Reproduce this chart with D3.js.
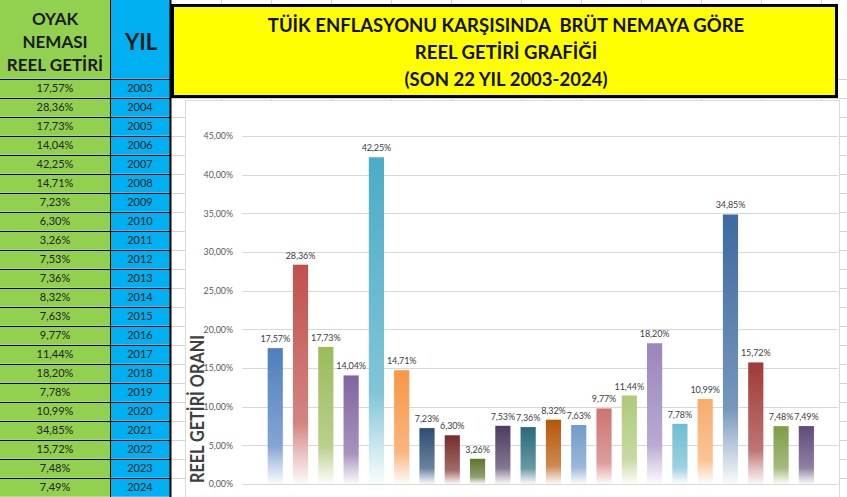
<!DOCTYPE html>
<html>
<head>
<meta charset="utf-8">
<script src="https://cdn.jsdelivr.net/npm/d3@7"></script>
<style>
  html, body { margin: 0; padding: 0; background: #fff; }
  svg { display: block; font-family: Lato, "Open Sans", sans-serif; }
</style>
</head>
<body>
<div id="chart"></div>
<script>
// yearly real return of OYAK dividend vs TÜİK inflation
const years = ["2003", "2004", "2005", "2006", "2007", "2008", "2009", "2010", "2011", "2012", "2013",
  "2014", "2015", "2016", "2017", "2018", "2019", "2020", "2021", "2022", "2023", "2024"];
const realReturn = [17.57, 28.36, 17.73, 14.04, 42.25, 14.71, 7.23, 6.30, 3.26, 7.53, 7.36,
  8.32, 7.63, 9.77, 11.44, 18.20, 7.78, 10.99, 34.85, 15.72, 7.48, 7.49];
const yTicks = [0, 5, 10, 15, 20, 25, 30, 35, 40, 45];
const titleLines = ["TÜİK ENFLASYONU KARŞISINDA  BRÜT NEMAYA GÖRE", "REEL GETİRİ GRAFİĞİ", "(SON 22 YIL 2003-2024)"];
const tableHeader = ["OYAK", "NEMASI", "REEL GETİRİ"];
const yTitle = "REEL GETİRİ ORANI";

// excel "vary colors by point" palette
const barColors = ["#4f7fbe", "#c0504d", "#9bbb59", "#8064a2", "#4bacc6", "#f79646",
  "#2c4d75", "#772c2a", "#5f7530", "#4d3b62", "#276a7c", "#b65708",
  "#729aca", "#cd7371", "#afc97a", "#9a85bd", "#6fbdd1", "#f9ab6b",
  "#3d6a9f", "#a03a37", "#7e9d45", "#604a7b"];

const width = 847, height = 497;
const rowTop = 78.7, rowH = 19;

const locale = d3.formatLocale({ decimal: ",", thousands: ".", grouping: [3], currency: ["", "₺"] });
const pct = v => locale.format(".2f")(v) + "%";

const svg = d3.select("#chart").append("svg")
  .attr("width", width)
  .attr("height", height);

const defs = svg.append("defs");

// spreadsheet cell grid in the background
const grid = svg.append("g").attr("stroke", "#d4d4d4").attr("stroke-width", 1);
d3.range(0, 23).forEach(i => {
  const y = Math.round(rowTop + i * rowH) + 0.5;
  grid.append("line").attr("x1", 171).attr("x2", width).attr("y1", y).attr("y2", y);
});
[221.5, 271.5, 331.5, 391.5, 451.5, 521.5, 581.5, 641.5, 701.5, 761.5, 821.5].forEach(x => {
  grid.append("line").attr("x1", x).attr("x2", x).attr("y1", 0).attr("y2", height);
});

// ---- left table ----
const table = svg.append("g");
table.append("rect").attr("x", 0).attr("y", 0).attr("width", 110.5).attr("height", rowTop).attr("fill", "#92d050");
table.append("rect").attr("x", 110.5).attr("y", 0).attr("width", 60).attr("height", rowTop).attr("fill", "#00b0f0");

table.selectAll("text.head").data(tableHeader).join("text")
  .attr("class", "head")
  .attr("x", 55)
  .attr("y", (d, i) => 25 + i * 23)
  .attr("text-anchor", "middle")
  .attr("font-weight", "bold")
  .attr("font-size", 17)
  .attr("fill", "#1a1a1a")
  .text(d => d);

table.append("text")
  .attr("x", 141).attr("y", 50)
  .attr("text-anchor", "middle")
  .attr("font-weight", "bold")
  .attr("font-size", 22)
  .attr("fill", "#1a1a1a")
  .text("YIL");

const rows = table.selectAll("g.row").data(years).join("g")
  .attr("class", "row")
  .attr("transform", (d, i) => `translate(0, ${rowTop + i * rowH})`);

rows.append("rect").attr("x", 0).attr("y", 0).attr("width", 110.5).attr("height", rowH).attr("fill", "#92d050");
rows.append("rect").attr("x", 110.5).attr("y", 0).attr("width", 60).attr("height", rowH).attr("fill", "#00b0f0");

rows.append("text")
  .attr("x", 55).attr("y", 13.5)
  .attr("text-anchor", "middle")
  .attr("font-size", 11)
  .attr("fill", "#222")
  .text((d, i) => pct(realReturn[i]));

rows.append("text")
  .attr("x", 140).attr("y", 13.5)
  .attr("text-anchor", "middle")
  .attr("font-size", 11)
  .attr("fill", "#222")
  .text(d => d);

// cell borders
const tb = table.append("g").attr("stroke", "#000").attr("stroke-width", 1);
d3.range(0, 23).forEach(i => {
  const y = Math.round(rowTop + i * rowH) + 0.5;
  tb.append("line").attr("x1", 0).attr("x2", 171).attr("y1", y).attr("y2", y);
});
tb.append("line").attr("x1", 110.5).attr("x2", 110.5).attr("y1", 0).attr("y2", height);
tb.append("line").attr("x1", 170.5).attr("x2", 170.5).attr("y1", 0).attr("y2", height).attr("stroke-width", 2);

// ---- title box ----
svg.append("rect")
  .attr("x", 172.5).attr("y", 5.5)
  .attr("width", 664).attr("height", 91)
  .attr("fill", "#ffff00")
  .attr("stroke", "#000")
  .attr("stroke-width", 3);

svg.selectAll("text.title").data(titleLines).join("text")
  .attr("class", "title")
  .attr("x", 506)
  .attr("y", (d, i) => 32 + i * 27)
  .attr("text-anchor", "middle")
  .attr("font-weight", "bold")
  .attr("font-size", 18.5)
  .attr("fill", "#111")
  .style("white-space", "pre")
  .text(d => d);

// ---- chart panel ----
svg.append("rect")
  .attr("x", 185.5).attr("y", 100.5)
  .attr("width", 654).attr("height", 420)
  .attr("fill", "#fff")
  .attr("stroke", "#d9d9d9");

const x = d3.scaleBand()
  .domain(years)
  .range([262.6, 819])
  .paddingInner(0.4)
  .paddingOuter(0.2);

const y = d3.scaleLinear()
  .domain([0, 45])
  .range([484, 136]);

const gridG = svg.append("g");
gridG.selectAll("line").data(yTicks).join("line")
  .attr("x1", 242).attr("x2", 838)
  .attr("y1", d => Math.round(y(d)) + 0.5)
  .attr("y2", d => Math.round(y(d)) + 0.5)
  .attr("stroke", "#d9d9d9");

const yAxis = svg.append("g")
  .attr("transform", "translate(233, 0)")
  .call(d3.axisLeft(y).tickValues(yTicks).tickSize(0).tickPadding(0).tickFormat(d => pct(d)));
yAxis.select(".domain").remove();
yAxis.selectAll("text")
  .attr("font-family", "Lato, sans-serif")
  .attr("font-size", 8.8)
  .attr("fill", "#595959");

svg.append("text")
  .attr("transform", "translate(204, 409) rotate(-90)")
  .attr("text-anchor", "middle")
  .attr("font-weight", "bold")
  .attr("font-size", 18)
  .attr("textLength", 148)
  .attr("lengthAdjust", "spacingAndGlyphs")
  .attr("fill", "#404040")
  .text(yTitle);

// bar gradients: solid top, fading to white at the base
const mix = (c, t) => d3.interpolateRgb(c, "#ffffff")(t);
barColors.forEach((c, i) => {
  const g = defs.append("linearGradient")
    .attr("id", "grad" + i)
    .attr("x1", 0).attr("y1", 0).attr("x2", 0).attr("y2", 1);
  g.append("stop").attr("offset", "0%").attr("stop-color", c);
  g.append("stop").attr("offset", "72%").attr("stop-color", mix(c, 0.3));
  g.append("stop").attr("offset", "86%").attr("stop-color", mix(c, 0.65));
  g.append("stop").attr("offset", "100%").attr("stop-color", mix(c, 0.97));
});

const bars = svg.append("g");
bars.selectAll("rect").data(years).join("rect")
  .attr("x", d => x(d))
  .attr("y", (d, i) => y(realReturn[i]))
  .attr("width", x.bandwidth())
  .attr("height", (d, i) => y(0) - y(realReturn[i]))
  .attr("fill", (d, i) => `url(#grad${i})`);

bars.selectAll("text").data(years).join("text")
  .attr("x", d => x(d) + x.bandwidth() / 2)
  .attr("y", (d, i) => y(realReturn[i]) - 6)
  .attr("text-anchor", "middle")
  .attr("font-size", 9)
  .attr("letter-spacing", -0.1)
  .attr("fill", "#404040")
  .text((d, i) => pct(realReturn[i]));
</script>
</body>
</html>
